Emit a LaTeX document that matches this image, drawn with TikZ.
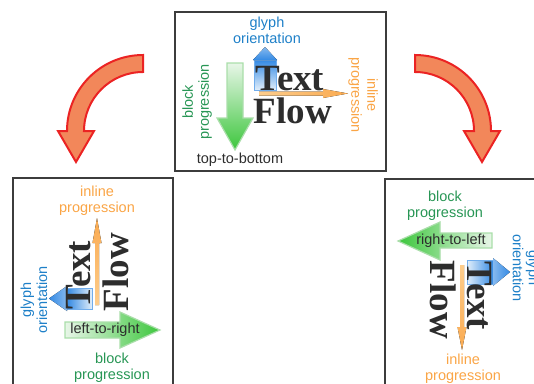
\documentclass[tikz,border=0pt]{standalone}
\usepackage{fontspec}
\setmainfont{Liberation Serif}
\setsansfont{Liberation Sans}
\definecolor{bluetxt}{RGB}{30,128,200}
\definecolor{orangetxt}{RGB}{250,165,70}
\definecolor{greentxt}{RGB}{40,150,85}
\definecolor{arrgreen}{RGB}{60,198,60}
\definecolor{lightgreen}{RGB}{232,246,232}
\definecolor{greenedge}{RGB}{170,222,170}
\definecolor{arrblue}{RGB}{52,138,228}
\definecolor{lightblue}{RGB}{225,238,250}
\definecolor{orangeA}{RGB}{253,205,140}
\definecolor{orangeB}{RGB}{250,170,80}
\definecolor{redfill}{RGB}{242,135,90}
\definecolor{redline}{RGB}{235,35,35}
\definecolor{boxline}{RGB}{60,60,60}
\definecolor{darktxt}{RGB}{45,45,45}
\begin{document}
\begin{tikzpicture}[x=1pt,y=-1pt,
  lbl/.style={font=\sffamily\fontsize{14.5}{16}\selectfont, align=center, inner sep=0pt},
  big/.style={font=\rmfamily\bfseries\fontsize{37}{37}\selectfont, text=darktxt, inner sep=0pt},
  frame/.style={draw=boxline, line width=1.6pt},
  redarrow/.style={fill=redfill, draw=redline, line width=2pt, line join=miter},
  garrow/.style={draw=greenedge, line width=1.2pt},
  barrow/.style={draw=arrblue!70, line width=1pt},
  oarrow/.style={draw=none}
]
\useasboundingbox (0,0) rectangle (534,383);
\clip (0,0) rectangle (534,383);

% frames
\node[frame, minimum width=211pt, minimum height=159pt, anchor=north west, inner sep=0pt] (topbox) at (174,11) {};
\node[frame, minimum width=160pt, minimum height=220pt, anchor=north west, inner sep=0pt] (leftbox) at (12,177) {};
\node[frame, minimum width=170pt, minimum height=220pt, anchor=north west, inner sep=0pt] (rightbox) at (384,178) {};

% red curved arrows
\draw[redarrow] (143,55) arc[start angle=-90,end angle=-180,radius=76] -- (58,131) -- (76,162) -- (94,131) -- (84,131) arc[start angle=-180,end angle=-90,radius=59] -- cycle;
\draw[redarrow] (415,55) arc[start angle=-90,end angle=0,radius=76] -- (500,131) -- (482,162) -- (464,131) -- (474,131) arc[start angle=0,end angle=-90,radius=59] -- cycle;

% ---------- top box ----------
\draw[garrow, top color=lightgreen, bottom color=arrgreen] (227,63) -- (243,63) -- (243,118) -- (253,118) -- (235,150) -- (217,118) -- (227,118) -- cycle;
\draw[barrow, top color=arrblue, bottom color=lightblue] (254,60) rectangle (276,90);
\fill[top color=arrblue!60, bottom color=arrblue] (253,60) -- (265,47) -- (277,60) -- cycle;
\fill[left color=orangeA, right color=orangeB] (259,91.5) -- (323,91.5) -- (323,89) -- (348,93.5) -- (323,98) -- (323,95.5) -- (259,95.5) -- cycle;

\node[big, anchor=base] (t1) at (290,90) {Text};
\node[big, anchor=base] (f1) at (293,123) {Flow};
\node[lbl, text=bluetxt] (go1) at (267,30) {glyph\\orientation};
\node[lbl, text=orangetxt, rotate=-90] (ip1) at (363,95) {inline\\progression};
\node[lbl, text=greentxt, rotate=90] (bp1) at (197,102) {block\\progression};
\node[lbl, text=darktxt] (tb) at (240,160) {top-to-bottom};

% ---------- left box ----------
\draw[garrow, left color=lightgreen, right color=arrgreen] (65,322) -- (120,322) -- (120,312) -- (160,330) -- (120,348) -- (120,338) -- (65,338) -- cycle;
\draw[barrow, left color=arrblue, right color=lightblue] (67,288) rectangle (92,309);
\fill[left color=arrblue, right color=arrblue!60] (67,286) -- (49,298.5) -- (67,311) -- cycle;
\fill[bottom color=orangeA, top color=orangeB] (95,305) -- (95,243) -- (92.5,243) -- (97,218) -- (101.5,243) -- (99,243) -- (99,305) -- cycle;

\node[big, anchor=base, rotate=90] (t2) at (90,275) {Text};
\node[big, anchor=base, rotate=90] (f2) at (128,272) {Flow};
\node[lbl, text=orangetxt] (ip2) at (97,201) {inline\\progression};
\node[lbl, text=bluetxt, rotate=90] (go2) at (34,300) {glyph\\orientation};
\node[lbl, text=greentxt] (bp2) at (112,368) {block\\progression};
\node[lbl, text=darktxt] (lr) at (105,330) {left-to-right};

% ---------- right box ----------
\draw[garrow, left color=arrgreen, right color=lightgreen] (492,233) -- (440,233) -- (440,222) -- (398,241) -- (440,260) -- (440,248) -- (492,248) -- cycle;
\draw[barrow, left color=lightblue, right color=arrblue] (467,260) rectangle (493,284);
\fill[left color=arrblue!60, right color=arrblue] (493,258) -- (510,272) -- (493,286) -- cycle;
\fill[top color=orangeA, bottom color=orangeB] (460,265) -- (460,327) -- (457.5,327) -- (462,350) -- (466.5,327) -- (464,327) -- (464,265) -- cycle;

\node[big, anchor=base, rotate=-90] (t3) at (467,296) {Text};
\node[big, anchor=base, rotate=-90] (f3) at (430,300) {Flow};
\node[lbl, text=greentxt] (bp3) at (445,206) {block\\progression};
\node[lbl, text=bluetxt, rotate=-90] (go3) at (526,268) {glyph\\orientation};
\node[lbl, text=orangetxt] (ip3) at (463,369) {inline\\progression};
\node[lbl, text=darktxt] (rl) at (451,241) {right-to-left};
\end{tikzpicture}
\end{document}
